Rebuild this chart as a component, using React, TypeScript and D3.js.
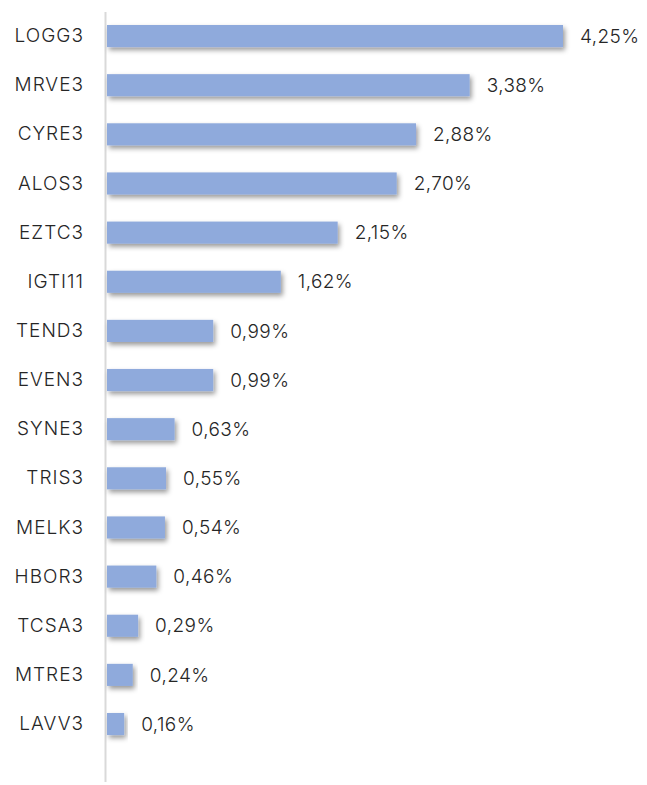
import React, { useRef, useEffect } from 'react';
import { select, scaleBand, scaleLinear, axisLeft } from 'd3';

const tickers = [
  'LOGG3', 'MRVE3', 'CYRE3', 'ALOS3', 'EZTC3', 'IGTI11', 'TEND3', 'EVEN3',
  'SYNE3', 'TRIS3', 'MELK3', 'HBOR3', 'TCSA3', 'MTRE3', 'LAVV3',
];
const weights = [4.25, 3.38, 2.88, 2.7, 2.15, 1.62, 0.99, 0.99, 0.63, 0.55, 0.54, 0.46, 0.29, 0.24, 0.16];

const fmt = (v: number) => v.toFixed(2).replace('.', ',') + '%';

const App = () => {
  const svgRef = useRef(null);

  useEffect(() => {
    const svg = select(svgRef.current);
    const left = 107;
    const top = 11.5;
    const step = 49.14;

    const y = scaleBand()
      .domain(tickers)
      .range([top, top + step * tickers.length])
      .paddingInner(0.55)
      .paddingOuter(0.275);
    const x = scaleLinear().domain([0, 4.25]).range([left, 563]);

    const font = 'Inter, "Open Sans", sans-serif';

    // axis line
    svg
      .select('.axis-line')
      .attr('x1', 105.5)
      .attr('x2', 105.5)
      .attr('y1', 12)
      .attr('y2', 782)
      .attr('stroke', '#d9d9d9')
      .attr('stroke-width', 2);

    const yAxis = axisLeft(y).tickSize(0).tickPadding(0);
    const g = svg
      .select('.y-axis')
      .attr('transform', 'translate(84,0)')
      // @ts-ignore
      .call(yAxis);
    g.select('.domain').remove();
    g.selectAll('text')
      .attr('font-family', font)
      .attr('font-size', 19)
      .attr('font-weight', 300)
      .attr('letter-spacing', 1)
      .attr('fill', '#262626');

    svg
      .selectAll('.bar')
      .data(weights)
      .join('rect')
      .attr('class', 'bar')
      .attr('x', left)
      // @ts-ignore
      .attr('y', (d, i) => y(tickers[i]))
      .attr('width', (d) => x(d) - left)
      .attr('height', y.bandwidth())
      .attr('fill', '#8faadc')
      .attr('filter', 'url(#shadow)');

    svg
      .selectAll('.val')
      .data(weights)
      .join('text')
      .attr('class', 'val')
      .attr('x', (d) => x(d) + 17)
      // @ts-ignore
      .attr('y', (d, i) => y(tickers[i]) + y.bandwidth() / 2)
      .attr('dy', '0.35em')
      .attr('font-family', font)
      .attr('font-size', 19)
      .attr('font-weight', 300)
      .attr('letter-spacing', 0.4)
      .attr('fill', '#262626')
      .text((d) => fmt(d));
  }, []);

  return (
    <svg
      ref={svgRef}
      width={647}
      height={785}
      style={{ position: 'absolute', left: 0, top: 0, background: '#fff' }}
    >
      <defs>
        <filter id="shadow" x="-10%" y="-30%" width="130%" height="190%">
          <feDropShadow dx="2" dy="3" stdDeviation="2.5" floodColor="#000" floodOpacity="0.4" />
        </filter>
      </defs>
      <line className="axis-line" />
      <g className="y-axis" />
    </svg>
  );
};

export default App;
